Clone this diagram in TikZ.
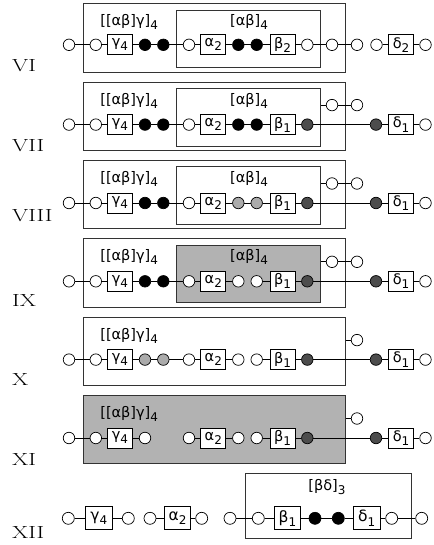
\documentclass[tikz,border=0pt]{standalone}
\usepackage{fontspec}
\newfontfamily\dv{DejaVu Sans}
\usepackage{graphicx}
\tikzset{
  wc/.style={circle,draw,fill=white,minimum size=11.5pt,inner sep=0pt,line width=0.7pt},
  bc/.style={wc,fill=black},
  lg/.style={wc,fill=black!33},
  dg/.style={wc,fill=black!70},
  gbox/.style={draw,fill=white,minimum width=25pt,minimum height=20pt,inner sep=0pt,line width=0.7pt,font=\dv\fontsize{14.5}{15}\selectfont},
  bbox/.style={gbox,minimum width=26.5pt,minimum height=23pt,font=\dv\fontsize{15.5}{16}\selectfont},
  xc/.style={wc,minimum size=12pt},
  xb/.style={xc,fill=black},
  frame/.style={draw=black!80,line width=0.8pt,inner sep=0pt,anchor=north west},
  grp/.style={font=\dv\fontsize{14.5}{15}\selectfont,inner sep=0pt},
  rom/.style={anchor=base west,inner sep=0pt,font=\fontsize{17.5}{20}\selectfont},
  conn/.style={line width=0.7pt},
}
\newcommand\sbs[1]{\raisebox{-0.28em}{\fontsize{12}{12}\selectfont #1}}
\newcommand\wroman[1]{\scalebox{1.33}[1]{#1}}
\begin{document}
\begin{tikzpicture}[x=1pt,y=-1pt]
\useasboundingbox (0,0) rectangle (433,545);

% ---------------- Row VI ----------------
\node[rom] (r6) at (12,71.7) {\wroman{VI}};
\node[frame,minimum width=262.3pt,minimum height=68.4pt] (o6) at (82.7,3.3) {};
\node[frame,minimum width=144.3pt,minimum height=57.5pt] (i6) at (175.7,9.8) {};
\node[grp] (l6) at (129.2,21.5) {[[αβ]γ]\sbs{4}};
\node[grp] (m6) at (249,21.5) {[αβ]\sbs{4}};
\node[wc] (a1) at (69,44.8) {};
\node[wc] (a2) at (95.8,44.8) {};
\node[gbox] (ag) at (120,44.8) {γ\sbs{4}};
\node[bc] (ab1) at (145,44.8) {};
\node[bc] (ab2) at (163.3,44.8) {};
\node[wc] (a3) at (189,44.8) {};
\node[gbox] (aa) at (213.3,44.8) {α\sbs{2}};
\node[bc] (ab3) at (238.3,44.8) {};
\node[bc] (ab4) at (256.7,44.8) {};
\node[gbox] (ab) at (282.5,44.8) {β\sbs{2}};
\node[wc] (a4) at (307.3,44.8) {};
\node[wc] (a5) at (332,44.8) {};
\node[wc] (a6) at (357,44.8) {};
\node[wc] (a7) at (376.5,44.8) {};
\node[gbox] (ad) at (401,44.8) {δ\sbs{2}};
\node[wc] (a8) at (425.5,44.8) {};
\draw[conn] (a1)--(a2) (a2)--(ag) (ag)--(ab1) (ab1)--(ab2) (ab2)--(a3) (a3)--(aa)
  (aa)--(ab3) (ab3)--(ab4) (ab4)--(ab) (ab)--(a4) (a4)--(a5) (a5)--(a6)
  (a7)--(ad) (ad)--(a8);

% ---------------- Row VII ----------------
\node[rom] (r7) at (12,151.7) {\wroman{VII}};
\node[frame,minimum width=262.3pt,minimum height=68.4pt] (o7) at (82.7,81.6) {};
\node[frame,minimum width=144.3pt,minimum height=57.5pt] (i7) at (175.7,88.1) {};
\node[grp] (l7) at (129.2,100.6) {[[αβ]γ]\sbs{4}};
\node[grp] (m7) at (249,100.6) {[αβ]\sbs{4}};
\node[wc] (b1) at (69,124.6) {};
\node[wc] (b2) at (95.8,124.6) {};
\node[gbox] (bg) at (120,124.6) {γ\sbs{4}};
\node[bc] (bb1) at (145,124.6) {};
\node[bc] (bb2) at (163.3,124.6) {};
\node[wc] (b3) at (189,124.6) {};
\node[gbox] (ba) at (213.3,124.6) {α\sbs{2}};
\node[bc] (bb3) at (238.3,124.6) {};
\node[bc] (bb4) at (256.7,124.6) {};
\node[gbox] (bb) at (282.5,124.6) {β\sbs{1}};
\node[dg] (b4) at (307.3,124.6) {};
\node[wc] (bk1) at (332,105.1) {};
\node[wc] (bk2) at (357,105.1) {};
\node[dg] (b5) at (376,124.6) {};
\node[gbox] (bd) at (401,124.6) {δ\sbs{1}};
\node[wc] (b6) at (425.5,124.6) {};
\draw[conn] (b1)--(b2) (b2)--(bg) (bg)--(bb1) (bb1)--(bb2) (bb2)--(b3) (b3)--(ba)
  (ba)--(bb3) (bb3)--(bb4) (bb4)--(bb) (bb)--(b4) (b4)--(b5) (b5)--(bd) (bd)--(b6)
  (i7.east |- bk1)--(bk1) (bk1)--(bk2);

% ---------------- Row VIII ----------------
\node[rom] (r8) at (12,221.7) {\wroman{VIII}};
\node[frame,minimum width=262.3pt,minimum height=68.4pt] (o8) at (82.7,160) {};
\node[frame,minimum width=144.3pt,minimum height=57.5pt] (i8) at (175.7,166.5) {};
\node[grp] (l8) at (129.2,179) {[[αβ]γ]\sbs{4}};
\node[grp] (m8) at (249,179) {[αβ]\sbs{4}};
\node[wc] (c1) at (69,203) {};
\node[wc] (c2) at (95.8,203) {};
\node[gbox] (cg) at (120,203) {γ\sbs{4}};
\node[bc] (cb1) at (145,203) {};
\node[bc] (cb2) at (163.3,203) {};
\node[wc] (c3) at (189,203) {};
\node[gbox] (ca) at (213.3,203) {α\sbs{2}};
\node[lg] (cb3) at (238.3,203) {};
\node[lg] (cb4) at (256.7,203) {};
\node[gbox] (cb) at (282.5,203) {β\sbs{1}};
\node[dg] (c4) at (307.3,203) {};
\node[wc] (ck1) at (332,183.5) {};
\node[wc] (ck2) at (357,183.5) {};
\node[dg] (c5) at (376,203) {};
\node[gbox] (cd) at (401,203) {δ\sbs{1}};
\node[wc] (c6) at (425.5,203) {};
\draw[conn] (c1)--(c2) (c2)--(cg) (cg)--(cb1) (cb1)--(cb2) (cb2)--(c3) (c3)--(ca)
  (ca)--(cb3) (cb3)--(cb4) (cb4)--(cb) (cb)--(c4) (c4)--(c5) (c5)--(cd) (cd)--(c6)
  (i8.east |- ck1)--(ck1) (ck1)--(ck2);

% ---------------- Row IX ----------------
\node[rom] (r9) at (12,306.7) {\wroman{IX}};
\node[frame,minimum width=262.3pt,minimum height=68.4pt] (o9) at (82.7,238.3) {};
\node[frame,fill=black!30,minimum width=144.3pt,minimum height=57.5pt] (i9) at (175.7,244.8) {};
\node[grp] (l9) at (129.2,257.3) {[[αβ]γ]\sbs{4}};
\node[grp] (m9) at (249,257.3) {[αβ]\sbs{4}};
\node[wc] (d1) at (69,281.3) {};
\node[wc] (d2) at (95.8,281.3) {};
\node[gbox] (dg) at (120,281.3) {γ\sbs{4}};
\node[bc] (db1) at (145,281.3) {};
\node[bc] (db2) at (163.3,281.3) {};
\node[wc] (d3) at (189,281.3) {};
\node[gbox] (da) at (213.3,281.3) {α\sbs{2}};
\node[wc] (db3) at (238.3,281.3) {};
\node[wc] (db4) at (256.7,281.3) {};
\node[gbox] (db) at (282.5,281.3) {β\sbs{1}};
\node[dg] (d4) at (307.3,281.3) {};
\node[wc] (dk1) at (332,261.8) {};
\node[wc] (dk2) at (357,261.8) {};
\node[dg] (d5) at (376,281.3) {};
\node[gbox] (dd) at (401,281.3) {δ\sbs{1}};
\node[wc] (d6) at (425.5,281.3) {};
\draw[conn] (d1)--(d2) (d2)--(dg) (dg)--(db1) (db1)--(db2) (db2)--(d3) (d3)--(da)
  (da)--(db3) (db4)--(db) (db)--(d4) (d4)--(d5) (d5)--(dd) (dd)--(d6)
  (i9.east |- dk1)--(dk1) (dk1)--(dk2);

% ---------------- Row X ----------------
\node[rom] (r10) at (12,385) {\wroman{X}};
\node[frame,minimum width=262.3pt,minimum height=68.4pt] (o10) at (82.7,316.6) {};
\node[grp] (l10) at (129.2,335.6) {[[αβ]γ]\sbs{4}};
\node[wc] (e1) at (69,359.6) {};
\node[wc] (e2) at (95.8,359.6) {};
\node[gbox] (eg) at (120,359.6) {γ\sbs{4}};
\node[lg] (eb1) at (145,359.6) {};
\node[lg] (eb2) at (163.3,359.6) {};
\node[wc] (e3) at (189,359.6) {};
\node[gbox] (ea) at (213.3,359.6) {α\sbs{2}};
\node[wc] (eb3) at (238.3,359.6) {};
\node[wc] (eb4) at (256.7,359.6) {};
\node[gbox] (eb) at (282.5,359.6) {β\sbs{1}};
\node[dg] (e4) at (307.3,359.6) {};
\node[wc] (ek2) at (357,340.1) {};
\node[dg] (e5) at (376,359.6) {};
\node[gbox] (ed) at (401,359.6) {δ\sbs{1}};
\node[wc] (e6) at (425.5,359.6) {};
\draw[conn] (e1)--(e2) (e2)--(eg) (eg)--(eb1) (eb1)--(eb2) (eb2)--(e3) (e3)--(ea)
  (ea)--(eb3) (eb4)--(eb) (eb)--(e4) (e4)--(e5) (e5)--(ed) (ed)--(e6)
  (o10.east |- ek2)--(ek2);

% ---------------- Row XI ----------------
\node[rom] (r11) at (12,465) {\wroman{XI}};
\node[frame,fill=black!30,minimum width=262.3pt,minimum height=68.4pt] (o11) at (82.7,395) {};
\node[grp] (l11) at (129.2,414) {[[αβ]γ]\sbs{4}};
\node[wc] (f1) at (69,438) {};
\node[wc] (f2) at (95.8,438) {};
\node[gbox] (fg) at (120,438) {γ\sbs{4}};
\node[wc] (fb1) at (145,438) {};
\node[wc] (f3) at (189,438) {};
\node[gbox] (fa) at (213.3,438) {α\sbs{2}};
\node[wc] (fb3) at (238.3,438) {};
\node[wc] (fb4) at (256.7,438) {};
\node[gbox] (fb) at (282.5,438) {β\sbs{1}};
\node[dg] (f4) at (307.3,438) {};
\node[wc] (fk2) at (357,418.5) {};
\node[dg] (f5) at (376,438) {};
\node[gbox] (fd) at (401,438) {δ\sbs{1}};
\node[wc] (f6) at (425.5,438) {};
\draw[conn] (f1)--(f2) (f2)--(fg) (fg)--(fb1) (f3)--(fa)
  (fa)--(fb3) (fb4)--(fb) (fb)--(f4) (f4)--(f5) (f5)--(fd) (fd)--(f6)
  (o11.east |- fk2)--(fk2);

% ---------------- Row XII ----------------
\node[rom] (r12) at (12,538) {\wroman{XII}};
\node[frame,minimum width=165.7pt,minimum height=65pt] (o12) at (245,473.3) {};
\node[grp] (l12) at (327,486.7) {[βδ]\sbs{3}};
\node[xc] (g1) at (68.3,518.3) {};
\node[bbox] (gg) at (98.8,518.3) {γ\sbs{4}};
\node[xc] (g2) at (128.3,518.3) {};
\node[xc] (g3) at (150,518.3) {};
\node[bbox] (ga) at (177.5,518.3) {α\sbs{2}};
\node[xc] (g4) at (201.7,518.3) {};
\node[xc] (g5) at (230,518.3) {};
\node[xc] (g6) at (258.3,518.3) {};
\node[bbox] (gb) at (287.5,518.3) {β\sbs{1}};
\node[xb] (gb1) at (315,518.3) {};
\node[xb] (gb2) at (338.3,518.3) {};
\node[bbox] (gd) at (366.7,518.3) {δ\sbs{1}};
\node[xc] (g7) at (391.7,518.3) {};
\node[xc] (g8) at (421.7,518.3) {};
\draw[conn] (g1)--(gg) (gg)--(g2) (g3)--(ga) (ga)--(g4) (g5)--(g6) (g6)--(gb)
  (gb)--(gb1) (gb1)--(gb2) (gb2)--(gd) (gd)--(g7) (g7)--(g8);
\end{tikzpicture}
\end{document}
